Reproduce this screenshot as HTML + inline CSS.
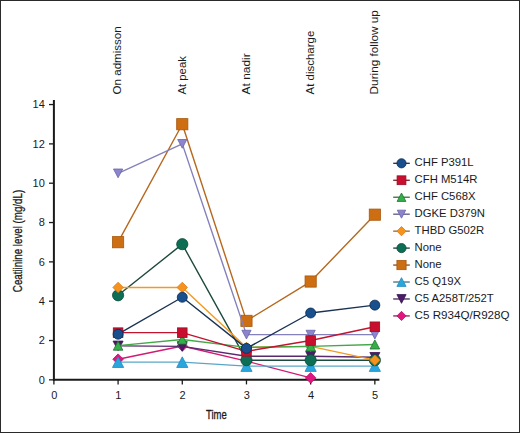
<!DOCTYPE html><html><head><meta charset="utf-8"><style>html,body{margin:0;padding:0;background:#fff;}svg{display:block;}text{font-family:"Liberation Sans",sans-serif;fill:#1a1a1a;}</style></head><body>
<svg width="520" height="433" viewBox="0 0 520 433">
<rect x="0" y="0" width="520" height="433" fill="#fff"/>
<text transform="translate(121.49,94.4) rotate(-90)" font-size="11.7" textLength="68.1" lengthAdjust="spacingAndGlyphs">On admisson</text>
<text transform="translate(185.68,94.4) rotate(-90)" font-size="11.7" textLength="38.18" lengthAdjust="spacingAndGlyphs">At peak</text>
<text transform="translate(249.87,94.4) rotate(-90)" font-size="11.7" textLength="41.0" lengthAdjust="spacingAndGlyphs">At nadir</text>
<text transform="translate(314.06,94.4) rotate(-90)" font-size="11.7" textLength="63.7" lengthAdjust="spacingAndGlyphs">At discharge</text>
<text transform="translate(378.25,94.4) rotate(-90)" font-size="11.7" textLength="84.3" lengthAdjust="spacingAndGlyphs">During follow up</text>
<g stroke="#1a1a1a" fill="none">
<line x1="53.90" y1="100" x2="53.90" y2="380.75" stroke-width="2"/>
<line x1="53.00" y1="379.85" x2="379.4" y2="379.85" stroke-width="2"/>
<line x1="49" y1="379.85" x2="53.90" y2="379.85" stroke-width="1.3"/>
<line x1="49" y1="340.52" x2="53.90" y2="340.52" stroke-width="1.3"/>
<line x1="49" y1="301.19" x2="53.90" y2="301.19" stroke-width="1.3"/>
<line x1="49" y1="261.87" x2="53.90" y2="261.87" stroke-width="1.3"/>
<line x1="49" y1="222.54" x2="53.90" y2="222.54" stroke-width="1.3"/>
<line x1="49" y1="183.21" x2="53.90" y2="183.21" stroke-width="1.3"/>
<line x1="49" y1="143.88" x2="53.90" y2="143.88" stroke-width="1.3"/>
<line x1="49" y1="104.55" x2="53.90" y2="104.55" stroke-width="1.3"/>
<line x1="53.90" y1="379.85" x2="53.90" y2="384.4" stroke-width="1.3"/>
<line x1="118.09" y1="379.85" x2="118.09" y2="384.4" stroke-width="1.3"/>
<line x1="182.28" y1="379.85" x2="182.28" y2="384.4" stroke-width="1.3"/>
<line x1="246.47" y1="379.85" x2="246.47" y2="384.4" stroke-width="1.3"/>
<line x1="310.66" y1="379.85" x2="310.66" y2="384.4" stroke-width="1.3"/>
<line x1="374.85" y1="379.85" x2="374.85" y2="384.4" stroke-width="1.3"/>
</g>
<text x="44.8" y="383.75" font-size="11" text-anchor="end">0</text>
<text x="44.8" y="344.42" font-size="11" text-anchor="end">2</text>
<text x="44.8" y="305.09" font-size="11" text-anchor="end">4</text>
<text x="44.8" y="265.77" font-size="11" text-anchor="end">6</text>
<text x="44.8" y="226.44" font-size="11" text-anchor="end">8</text>
<text x="44.8" y="187.11" font-size="11" text-anchor="end">10</text>
<text x="44.8" y="147.78" font-size="11" text-anchor="end">12</text>
<text x="44.8" y="108.45" font-size="11" text-anchor="end">14</text>
<text x="54.20" y="399.4" font-size="11" text-anchor="middle">0</text>
<text x="118.39" y="399.4" font-size="11" text-anchor="middle">1</text>
<text x="182.58" y="399.4" font-size="11" text-anchor="middle">2</text>
<text x="246.77" y="399.4" font-size="11" text-anchor="middle">3</text>
<text x="310.96" y="399.4" font-size="11" text-anchor="middle">4</text>
<text x="375.15" y="399.4" font-size="11" text-anchor="middle">5</text>
<text x="216.4" y="418.8" font-size="13.6" stroke="#1a1a1a" stroke-width="0.35" text-anchor="middle" textLength="20.7" lengthAdjust="spacingAndGlyphs">Time</text>
<text transform="translate(22.2,241.0) rotate(-90)" font-size="13" stroke="#1a1a1a" stroke-width="0.3" text-anchor="middle" textLength="102.3" lengthAdjust="spacingAndGlyphs">Ceatiinine level (mg/dL)</text>
<polyline points="118.09,359.20 182.28,346.03 246.47,361.17 310.66,377.88" fill="none" stroke="#d41a72" stroke-width="1.4" stroke-linejoin="round"/>
<polygon points="118.09,353.90 123.39,359.20 118.09,364.50 112.79,359.20" fill="#e0157e" stroke="#b8106a" stroke-width="0.8"/>
<polygon points="182.28,340.73 187.58,346.03 182.28,351.33 176.98,346.03" fill="#e0157e" stroke="#b8106a" stroke-width="0.8"/>
<polygon points="246.47,355.87 251.77,361.17 246.47,366.47 241.17,361.17" fill="#e0157e" stroke="#b8106a" stroke-width="0.8"/>
<polygon points="310.66,372.58 315.96,377.88 310.66,383.18 305.36,377.88" fill="#e0157e" stroke="#b8106a" stroke-width="0.8"/>
<polyline points="118.09,345.83 182.28,346.42 246.47,356.25 310.66,356.25 374.85,357.24" fill="none" stroke="#5a2a6e" stroke-width="1.4" stroke-linejoin="round"/>
<polygon points="118.09,350.58 123.09,341.08 113.09,341.08" fill="#4b1b6a" stroke="#3a1050" stroke-width="0.8"/>
<polygon points="182.28,351.17 187.28,341.67 177.28,341.67" fill="#4b1b6a" stroke="#3a1050" stroke-width="0.8"/>
<polygon points="246.47,361.00 251.47,351.50 241.47,351.50" fill="#4b1b6a" stroke="#3a1050" stroke-width="0.8"/>
<polygon points="310.66,361.00 315.66,351.50 305.66,351.50" fill="#4b1b6a" stroke="#3a1050" stroke-width="0.8"/>
<polygon points="374.85,361.99 379.85,352.49 369.85,352.49" fill="#4b1b6a" stroke="#3a1050" stroke-width="0.8"/>
<polyline points="118.09,362.15 182.28,362.15 246.47,366.09 310.66,366.09 374.85,366.09" fill="none" stroke="#5aa6c8" stroke-width="1.4" stroke-linejoin="round"/>
<polygon points="118.09,356.83 123.69,367.47 112.49,367.47" fill="#29a6de" stroke="#1f8cbc" stroke-width="0.8" stroke-linejoin="miter"/>
<polygon points="182.28,356.83 187.88,367.47 176.68,367.47" fill="#29a6de" stroke="#1f8cbc" stroke-width="0.8" stroke-linejoin="miter"/>
<polygon points="246.47,360.77 252.07,371.41 240.87,371.41" fill="#29a6de" stroke="#1f8cbc" stroke-width="0.8" stroke-linejoin="miter"/>
<polygon points="310.66,360.77 316.26,371.41 305.06,371.41" fill="#29a6de" stroke="#1f8cbc" stroke-width="0.8" stroke-linejoin="miter"/>
<polygon points="374.85,360.77 380.45,371.41 369.25,371.41" fill="#29a6de" stroke="#1f8cbc" stroke-width="0.8" stroke-linejoin="miter"/>
<polyline points="118.09,242.20 182.28,124.22 246.47,320.86 310.66,281.53 374.85,214.67" fill="none" stroke="#b5681f" stroke-width="1.4" stroke-linejoin="round"/>
<rect x="112.49" y="236.60" width="11.20" height="11.20" fill="#cd6e12" stroke="#a9580c" stroke-width="0.8"/>
<rect x="176.68" y="118.62" width="11.20" height="11.20" fill="#cd6e12" stroke="#a9580c" stroke-width="0.8"/>
<rect x="240.87" y="315.26" width="11.20" height="11.20" fill="#cd6e12" stroke="#a9580c" stroke-width="0.8"/>
<rect x="305.06" y="275.93" width="11.20" height="11.20" fill="#cd6e12" stroke="#a9580c" stroke-width="0.8"/>
<rect x="369.25" y="209.07" width="11.20" height="11.20" fill="#cd6e12" stroke="#a9580c" stroke-width="0.8"/>
<polyline points="118.09,295.29 182.28,244.17 246.47,360.19 310.66,360.19 374.85,360.19" fill="none" stroke="#1d4a3c" stroke-width="1.4" stroke-linejoin="round"/>
<circle cx="118.09" cy="295.29" r="5.60" fill="#0b6e55" stroke="#0c4a3a" stroke-width="0.8"/>
<circle cx="182.28" cy="244.17" r="5.60" fill="#0b6e55" stroke="#0c4a3a" stroke-width="0.8"/>
<circle cx="246.47" cy="360.19" r="5.60" fill="#0b6e55" stroke="#0c4a3a" stroke-width="0.8"/>
<circle cx="310.66" cy="360.19" r="5.60" fill="#0b6e55" stroke="#0c4a3a" stroke-width="0.8"/>
<circle cx="374.85" cy="360.19" r="5.60" fill="#0b6e55" stroke="#0c4a3a" stroke-width="0.8"/>
<polyline points="118.09,287.43 182.28,287.43 246.47,347.40 310.66,346.42 374.85,360.19" fill="none" stroke="#f29a20" stroke-width="1.4" stroke-linejoin="round"/>
<polygon points="118.09,282.23 123.29,287.43 118.09,292.63 112.89,287.43" fill="#f7931c" stroke="#d87a10" stroke-width="0.8"/>
<polygon points="182.28,282.23 187.48,287.43 182.28,292.63 177.08,287.43" fill="#f7931c" stroke="#d87a10" stroke-width="0.8"/>
<polygon points="246.47,342.20 251.67,347.40 246.47,352.60 241.27,347.40" fill="#f7931c" stroke="#d87a10" stroke-width="0.8"/>
<polygon points="310.66,341.22 315.86,346.42 310.66,351.62 305.46,346.42" fill="#f7931c" stroke="#d87a10" stroke-width="0.8"/>
<polygon points="374.85,354.99 380.05,360.19 374.85,365.39 369.65,360.19" fill="#f7931c" stroke="#d87a10" stroke-width="0.8"/>
<polyline points="118.09,173.38 182.28,143.88 246.47,334.62 310.66,334.62 374.85,334.62" fill="none" stroke="#8480bc" stroke-width="1.4" stroke-linejoin="round"/>
<polygon points="118.09,177.75 122.69,169.01 113.49,169.01" fill="#8c84cc" stroke="#6a64a8" stroke-width="0.8"/>
<polygon points="182.28,148.25 186.88,139.51 177.68,139.51" fill="#8c84cc" stroke="#6a64a8" stroke-width="0.8"/>
<polygon points="246.47,338.99 251.07,330.25 241.87,330.25" fill="#8c84cc" stroke="#6a64a8" stroke-width="0.8"/>
<polygon points="310.66,338.99 315.26,330.25 306.06,330.25" fill="#8c84cc" stroke="#6a64a8" stroke-width="0.8"/>
<polygon points="374.85,338.99 379.45,330.25 370.25,330.25" fill="#8c84cc" stroke="#6a64a8" stroke-width="0.8"/>
<polyline points="118.09,345.63 182.28,339.54 246.47,347.40 310.66,346.42 374.85,344.45" fill="none" stroke="#45a848" stroke-width="1.4" stroke-linejoin="round"/>
<polygon points="118.09,341.07 122.89,350.19 113.29,350.19" fill="#33b04a" stroke="#23702f" stroke-width="0.8" stroke-linejoin="miter"/>
<polygon points="182.28,334.98 187.08,344.10 177.48,344.10" fill="#33b04a" stroke="#23702f" stroke-width="0.8" stroke-linejoin="miter"/>
<polygon points="246.47,342.84 251.27,351.96 241.67,351.96" fill="#33b04a" stroke="#23702f" stroke-width="0.8" stroke-linejoin="miter"/>
<polygon points="310.66,341.86 315.46,350.98 305.86,350.98" fill="#33b04a" stroke="#23702f" stroke-width="0.8" stroke-linejoin="miter"/>
<polygon points="374.85,339.89 379.65,349.01 370.05,349.01" fill="#33b04a" stroke="#23702f" stroke-width="0.8" stroke-linejoin="miter"/>
<polyline points="118.09,332.66 182.28,332.66 246.47,351.34 310.66,340.52 374.85,326.76" fill="none" stroke="#c0142f" stroke-width="1.4" stroke-linejoin="round"/>
<rect x="113.29" y="327.86" width="9.60" height="9.60" fill="#c8102e" stroke="#9a0c24" stroke-width="0.8"/>
<rect x="177.48" y="327.86" width="9.60" height="9.60" fill="#c8102e" stroke="#9a0c24" stroke-width="0.8"/>
<rect x="241.67" y="346.54" width="9.60" height="9.60" fill="#c8102e" stroke="#9a0c24" stroke-width="0.8"/>
<rect x="305.86" y="335.72" width="9.60" height="9.60" fill="#c8102e" stroke="#9a0c24" stroke-width="0.8"/>
<rect x="370.05" y="321.96" width="9.60" height="9.60" fill="#c8102e" stroke="#9a0c24" stroke-width="0.8"/>
<polyline points="118.09,334.23 182.28,297.26 246.47,348.39 310.66,312.99 374.85,305.13" fill="none" stroke="#1a3253" stroke-width="1.4" stroke-linejoin="round"/>
<circle cx="118.09" cy="334.23" r="5.00" fill="#17508c" stroke="#0b2a52" stroke-width="0.8"/>
<circle cx="182.28" cy="297.26" r="5.00" fill="#17508c" stroke="#0b2a52" stroke-width="0.8"/>
<circle cx="246.47" cy="348.39" r="5.00" fill="#17508c" stroke="#0b2a52" stroke-width="0.8"/>
<circle cx="310.66" cy="312.99" r="5.00" fill="#17508c" stroke="#0b2a52" stroke-width="0.8"/>
<circle cx="374.85" cy="305.13" r="5.00" fill="#17508c" stroke="#0b2a52" stroke-width="0.8"/>
<line x1="393.2" y1="163.30" x2="409.8" y2="163.30" stroke="#202d3f" stroke-width="1.3"/>
<circle cx="401.50" cy="163.30" r="4.60" fill="#17508c" stroke="#0b2a52" stroke-width="0.8"/>
<text x="414.6" y="166.45" font-size="11.3">CHF P391L</text>
<line x1="393.2" y1="180.26" x2="409.8" y2="180.26" stroke="#7b1d2b" stroke-width="1.3"/>
<rect x="397.08" y="175.84" width="8.83" height="8.83" fill="#c8102e" stroke="#9a0c24" stroke-width="0.8"/>
<text x="414.6" y="183.41" font-size="11.3">CFH M514R</text>
<line x1="393.2" y1="197.22" x2="409.8" y2="197.22" stroke="#376e39" stroke-width="1.3"/>
<polygon points="401.50,193.02 405.92,201.42 397.08,201.42" fill="#33b04a" stroke="#23702f" stroke-width="0.8" stroke-linejoin="miter"/>
<text x="414.6" y="200.37" font-size="11.3">CHF C568X</text>
<line x1="393.2" y1="214.18" x2="409.8" y2="214.18" stroke="#5a5879" stroke-width="1.3"/>
<polygon points="401.50,218.20 405.73,210.16 397.27,210.16" fill="#8c84cc" stroke="#6a64a8" stroke-width="0.8"/>
<text x="414.6" y="217.33" font-size="11.3">DGKE D379N</text>
<line x1="393.2" y1="231.14" x2="409.8" y2="231.14" stroke="#976623" stroke-width="1.3"/>
<polygon points="401.50,226.54 406.10,231.14 401.50,235.74 396.90,231.14" fill="#f7931c" stroke="#d87a10" stroke-width="0.8"/>
<text x="414.6" y="234.29" font-size="11.3">THBD G502R</text>
<line x1="393.2" y1="248.10" x2="409.8" y2="248.10" stroke="#213a33" stroke-width="1.3"/>
<circle cx="401.50" cy="248.10" r="4.60" fill="#0b6e55" stroke="#0c4a3a" stroke-width="0.8"/>
<text x="414.6" y="251.25" font-size="11.3">None</text>
<line x1="393.2" y1="265.06" x2="409.8" y2="265.06" stroke="#754b23" stroke-width="1.3"/>
<rect x="396.90" y="260.46" width="9.20" height="9.20" fill="#cd6e12" stroke="#a9580c" stroke-width="0.8"/>
<text x="414.6" y="268.21" font-size="11.3">None</text>
<line x1="393.2" y1="282.02" x2="409.8" y2="282.02" stroke="#436d80" stroke-width="1.3"/>
<polygon points="401.50,277.65 406.10,286.39 396.90,286.39" fill="#29a6de" stroke="#1f8cbc" stroke-width="0.8" stroke-linejoin="miter"/>
<text x="414.6" y="285.17" font-size="11.3">C5 Q19X</text>
<line x1="393.2" y1="298.98" x2="409.8" y2="298.98" stroke="#43294e" stroke-width="1.3"/>
<polygon points="401.50,303.35 406.10,294.61 396.90,294.61" fill="#4b1b6a" stroke="#3a1050" stroke-width="0.8"/>
<text x="414.6" y="302.13" font-size="11.3">C5 A258T/252T</text>
<line x1="393.2" y1="315.94" x2="409.8" y2="315.94" stroke="#862050" stroke-width="1.3"/>
<polygon points="401.50,311.34 406.10,315.94 401.50,320.54 396.90,315.94" fill="#e0157e" stroke="#b8106a" stroke-width="0.8"/>
<text x="414.6" y="319.09" font-size="11.3" textLength="95" lengthAdjust="spacingAndGlyphs">C5 R934Q/R928Q</text>
<rect x="0.5" y="0.5" width="519" height="432" fill="none" stroke="#2a2a2a" stroke-width="1"/>
</svg></body></html>
